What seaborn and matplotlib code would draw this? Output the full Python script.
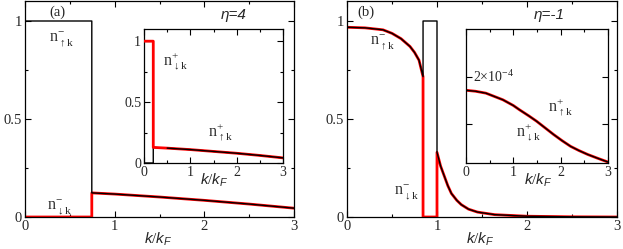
import numpy as np
import pandas as pd
import matplotlib
matplotlib.use("Agg")
import matplotlib.pyplot as plt
from matplotlib.ticker import MultipleLocator
import seaborn as sns

sns.set_theme(style="ticks")
plt.rcParams["font.family"] = ["Liberation Serif", "DejaVu Serif"]
plt.rcParams["mathtext.fontset"] = "custom"
plt.rcParams["mathtext.rm"] = "Liberation Serif"
plt.rcParams["mathtext.it"] = "Liberation Sans:italic"
plt.rcParams["mathtext.bf"] = "Liberation Serif:bold"
plt.rcParams["mathtext.sf"] = "Liberation Sans"

# ---- panel (a), eta = 4 -------------------------------------------------
kA_up   = [0.0, 0.745, 0.745, 1.0, 1.5, 2.0, 2.5, 3.0]
nA_up   = [1.0, 1.0, 0.123, 0.117, 0.102, 0.085, 0.066, 0.045]
kA_dn   = [0.0, 0.745, 0.745, 1.0, 1.5, 2.0, 2.5, 3.0]
nA_dn   = [0.0, 0.0, 0.123, 0.117, 0.102, 0.085, 0.066, 0.045]
# inset (a): n+
kAi_up  = [0.0, 0.2, 0.2, 0.5, 1.0, 1.5, 2.0, 2.5, 3.0]
nAi_up  = [0.0, 0.0, 0.128, 0.122, 0.11, 0.095, 0.08, 0.062, 0.042]
kAi_dn  = [0.0, 0.2, 0.2, 0.5, 1.0, 1.5, 2.0, 2.5, 3.0]
nAi_dn  = [1.0, 1.0, 0.128, 0.122, 0.11, 0.095, 0.08, 0.062, 0.042]

# ---- panel (b), eta = -1 ------------------------------------------------
kB_curve_lo = [0.0, 0.2, 0.4, 0.5, 0.6, 0.7, 0.75, 0.8, 0.845]
nB_curve_lo = [0.968, 0.965, 0.955, 0.937, 0.91, 0.87, 0.84, 0.80, 0.716]
kB_curve_hi = [1.0, 1.04, 1.08, 1.12, 1.16, 1.22, 1.27, 1.35, 1.45, 1.64, 2.0, 2.5, 3.0]
nB_curve_hi = [0.33, 0.26, 0.21, 0.16, 0.12, 0.085, 0.063, 0.04, 0.025, 0.012, 0.004, 0.001, 0.0]
kB_win = [0.845, 1.0]
# inset (b): n+ (units of 1e-4)
kBi = [0.0, 0.2, 0.42, 0.6, 0.78, 1.0, 1.13, 1.33, 1.49, 1.67, 1.85, 2.03, 2.21,
       2.39, 2.57, 2.78, 3.0]
nBi = [1.71, 1.69, 1.65, 1.58, 1.51, 1.39, 1.30, 1.17, 1.06, 0.92, 0.78, 0.65, 0.53,
       0.44, 0.36, 0.28, 0.20]

up_a = pd.DataFrame({"k": kA_up, "n": nA_up})
dn_a = pd.DataFrame({"k": kA_dn, "n": nA_dn})
up_ai = pd.DataFrame({"k": kAi_up, "n": nAi_up})
dn_ai = pd.DataFrame({"k": kAi_dn, "n": nAi_dn})
up_b = pd.DataFrame({"k": kB_curve_lo + [kB_win[0], kB_win[1], kB_win[1]] + kB_curve_hi,
                     "n": nB_curve_lo + [1.0, 1.0, nB_curve_hi[0]] + nB_curve_hi})
dn_b = pd.DataFrame({"k": kB_curve_lo + [kB_win[0], kB_win[1], kB_win[1]] + kB_curve_hi,
                     "n": nB_curve_lo + [0.0, 0.0, nB_curve_hi[0]] + nB_curve_hi})
bi = pd.DataFrame({"k": kBi, "n": np.array(nBi) * 1e-4})

RED, BLK = "#ff0000", "black"
LW_R, LW_K = 2.0, 1.0

fig = plt.figure(figsize=(6.23, 2.49), dpi=100)
axA = fig.add_axes([25/623, 32/249, 269/623, 215.6/249])
axB = fig.add_axes([347/623, 32/249, 270/623, 215.6/249])
axAi = fig.add_axes([144/623, 86/249, 139/623, 134/249])
axBi = fig.add_axes([466/623, 86/249, 142/623, 134/249])

def line(ax, df, color, lw, z):
    sns.lineplot(data=df, x="k", y="n", ax=ax, color=color, lw=lw, sort=False,
                 estimator=None, zorder=z)

line(axA, dn_a, RED, LW_R, 2)
line(axA, up_a, BLK, LW_K, 3)
line(axAi, up_ai, BLK, LW_K, 2)
line(axAi, dn_ai, RED, LW_R, 3)
line(axAi, up_ai.iloc[3:], BLK, LW_K, 4)
line(axB, dn_b, RED, LW_R, 2)
line(axB, up_b, BLK, LW_K, 3)
line(axBi, bi, RED, LW_R, 2)
line(axBi, bi, BLK, LW_K, 3)

def style(ax, ylim, fs=10.5):
    ax.set_xlim(0, 3)
    ax.set_ylim(*ylim)
    ax.set_xlabel("")
    ax.set_ylabel("")
    ax.set_xticks([0, 1, 2, 3])
    ax.set_xticklabels(["0", "1", "2", "3"])
    ax.xaxis.set_minor_locator(MultipleLocator(0.5))
    ax.tick_params(which="both", direction="in", top=True, right=True,
                   labelsize=fs, pad=2, width=0.8, color="black")
    ax.tick_params(which="major", length=4)
    ax.tick_params(which="minor", length=2.5)
    for s in ax.spines.values():
        s.set_linewidth(0.9)
        s.set_color("black")

for ax in (axA, axB, axAi):
    style(ax, (0, 1.1), fs=10.5 if ax is not axAi else 10)
    ax.set_yticks([0, 0.5, 1])
    ax.set_yticklabels(["0", "0.5", "1"])
    ax.yaxis.set_minor_locator(MultipleLocator(0.25))
style(axBi, (0.18e-4, 3.0e-4), fs=10)
axBi.set_yticks([1e-4, 2e-4])
axBi.set_yticklabels([])

xl = dict(fontsize=11, ha="center", va="center")
fig.text(158/623, 1 - 239/249, r"$k/k_F$", **xl)
fig.text(480/623, 1 - 239/249, r"$k/k_F$", **xl)
fig.text(214/623, 1 - 180/249, r"$k/k_F$", **xl)
fig.text(538/623, 1 - 180/249, r"$k/k_F$", **xl)

fig.text(57/623, 1 - 12/249, "(a)", fontsize=10.5, ha="center", va="center")
fig.text(366/623, 1 - 12/249, "(b)", fontsize=10.5, ha="center", va="center")
eta = dict(fontsize=11, ha="center", va="center", style="italic", family="Liberation Sans")
fig.text(234/623, 1 - 15/249, "η=4", **eta)
fig.text(549/623, 1 - 15/249, "η=-1", **eta)

lab = dict(fontsize=11.5, ha="center", va="center")
fig.text(62/623, 1 - 39/249, r"$\mathrm{n}^{-}_{\uparrow\mathrm{k}}$", **lab)
fig.text(60/623, 1 - 207/249, r"$\mathrm{n}^{-}_{\downarrow\mathrm{k}}$", **lab)
fig.text(176/623, 1 - 62/249, r"$\mathrm{n}^{+}_{\downarrow\mathrm{k}}$", **lab)
fig.text(221/623, 1 - 133/249, r"$\mathrm{n}^{+}_{\uparrow\mathrm{k}}$", **lab)
fig.text(383/623, 1 - 42/249, r"$\mathrm{n}^{-}_{\uparrow\mathrm{k}}$", **lab)
fig.text(407/623, 1 - 192/249, r"$\mathrm{n}^{-}_{\downarrow\mathrm{k}}$", **lab)
fig.text(561/623, 1 - 108/249, r"$\mathrm{n}^{+}_{\uparrow\mathrm{k}}$", **lab)
fig.text(529/623, 1 - 133/249, r"$\mathrm{n}^{+}_{\downarrow\mathrm{k}}$", **lab)
fig.text(494/623, 1 - 77/249, r"$\mathrm{2{\times}10^{-4}}$", fontsize=10, ha="center", va="center")

fig.savefig("out.png", dpi=100)
